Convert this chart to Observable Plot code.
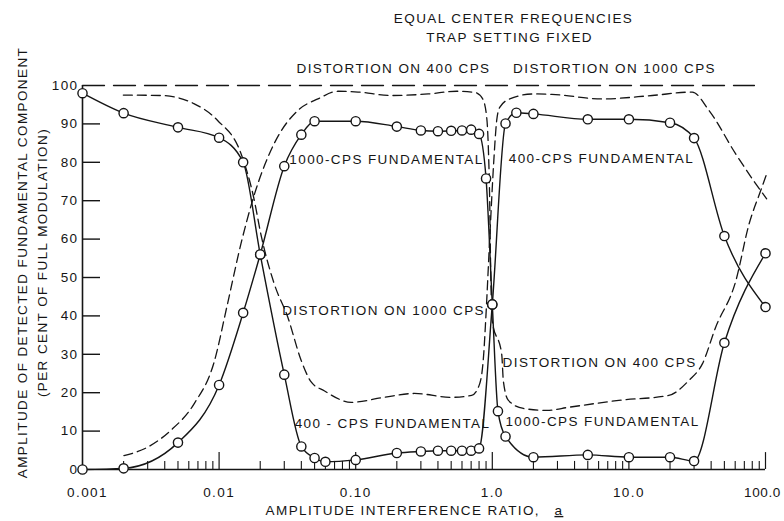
<!DOCTYPE html>
<html><head><meta charset="utf-8">
<script src="https://cdn.jsdelivr.net/npm/d3@7"></script>
<script src="https://cdn.jsdelivr.net/npm/@observablehq/plot@0.6"></script>
<style>
body{margin:0;background:#fff;}
#chart svg{font-family:"Liberation Sans",Arial,sans-serif;letter-spacing:1.4px;background:#fff;}
.ul text{text-decoration:underline;}
</style></head><body><div id="chart"></div>
<script>
// 1000-CPS fundamental (circles, solid)
const ratio1000 = [0.001, 0.002, 0.005, 0.01, 0.015, 0.02, 0.03, 0.04, 0.05, 0.1, 0.2, 0.3, 0.4, 0.5, 0.6, 0.7, 0.8, 0.9, 1.0, 1.1, 1.25, 2, 5, 10, 20, 30, 50, 100];
const fund1000  = [0, 0.3, 7, 22, 40.8, 56, 79, 87.2, 90.7, 90.7, 89.3, 88.3, 88.1, 88.2, 88.3, 88.5, 87.4, 75.8, 43, 15.2, 8.6, 3.2, 3.8, 3.2, 3.2, 2.2, 33, 56.3];
// 400-CPS fundamental (circles, solid)
const ratio400 = [0.001, 0.002, 0.005, 0.01, 0.015, 0.02, 0.03, 0.04, 0.05, 0.06, 0.1, 0.2, 0.3, 0.4, 0.5, 0.6, 0.7, 0.8, 1.0, 1.25, 1.5, 2, 5, 10, 20, 30, 50, 100];
const fund400  = [98, 92.8, 89.1, 86.4, 80, 56, 24.7, 6, 3, 2, 2.5, 4.3, 4.7, 4.9, 4.9, 4.9, 4.9, 5.5, 43, 90.1, 92.9, 92.6, 91.2, 91.2, 90.3, 86.3, 60.8, 42.3];
// Distortion on 400 CPS (dashed)
const distRatio400 = [0.00201, 0.00299, 0.00443, 0.00656, 0.0092, 0.0115, 0.01446, 0.0179, 0.0254, 0.0377, 0.0529, 0.0741, 0.104, 0.1825, 0.3395, 0.548, 0.747, 0.851, 0.910, 0.935, 0.957, 0.973, 0.998, 1.172, 1.205, 1.312, 1.69, 2.51, 3.62, 8.43, 19.6, 27.5, 34.5, 43.1, 60.5, 75.9, 92.4, 102];
const dist400      = [3.6, 5.8, 10.2, 17.1, 28, 43, 58.8, 71, 85, 93.5, 96.5, 98.5, 98.3, 97.4, 97.8, 98.5, 98.2, 96.5, 91.7, 84, 70, 52, 38.8, 30, 23, 18, 15.9, 15.4, 16.2, 18, 19.3, 23.2, 27.5, 37, 49, 64, 72.7, 77];
// Distortion on 1000 CPS (dashed)
const distRatio1000 = [0.00199, 0.00374, 0.00653, 0.00975, 0.01446, 0.0179, 0.0203, 0.0253, 0.0318, 0.0399, 0.0472, 0.0588, 0.0929, 0.162, 0.269, 0.504, 0.706, 0.808, 0.865, 0.895, 0.957, 1.024, 1.077, 1.133, 1.342, 2.004, 2.73, 6.35, 14.8, 29.1, 38.6, 60.5, 84.9, 102];
const dist1000      = [97.5, 97.4, 95.3, 90.9, 82.3, 70.9, 61, 48.4, 39.7, 28.4, 22.8, 20.5, 17.5, 18.8, 19.8, 18.8, 19.3, 22.3, 30, 39, 60, 80, 90.9, 94.3, 96.5, 97.8, 97.7, 96.5, 97.4, 98.3, 93.5, 82.2, 74.4, 70.5];
// 100 % reference (dashed)
const fullRatio = [0.001, 83];
const fullLevel = [100, 100];

const xTickValues = [0.001, 0.01, 0.1, 1, 10, 100];
const xTickLabels = ["0.001", "0.01", "0.10", "1.0", "10.0", "100.0"];
const yTickValues = [0, 10, 20, 30, 40, 50, 60, 70, 80, 90, 100];
const yTickLabels = ["0", "10", "20", "30", "40", "50", "60", "70", "80", "90", "100"];

const labelTexts = ["EQUAL CENTER FREQUENCIES", "TRAP SETTING FIXED", "DISTORTION ON 400 CPS", "DISTORTION ON 1000 CPS", "1000-CPS FUNDAMENTAL", "400-CPS FUNDAMENTAL", "DISTORTION ON 1000 CPS", "DISTORTION ON 400 CPS", "400 - CPS FUNDAMENTAL", "1000-CPS FUNDAMENTAL"];
const labelRatio  = [1.43, 1.34, 0.189, 7.85, 0.168, 6.3, 0.16, 6.1, 0.186, 6.41];
const labelLevel  = [117.4, 112.5, 104.4, 104.4, 80.7, 81, 41.4, 27.9, 12, 12.5];

const xTitle = "AMPLITUDE INTERFERENCE RATIO,";
const xTitleVar = "a";
const yTitle1 = "AMPLITUDE OF DETECTED FUNDAMENTAL COMPONENT";
const yTitle2 = "(PER CENT OF FULL MODULATION)";

const pts = (xs, ys) => xs.map((x, i) => ({x, y: ys[i]}));
const s1000 = pts(ratio1000, fund1000);
const s400 = pts(ratio400, fund400);
const d400 = pts(distRatio400, dist400);
const d1000 = pts(distRatio1000, dist1000);
const full = pts(fullRatio, fullLevel);
const labels = labelTexts.map((t, i) => ({t, x: labelRatio[i], y: labelLevel[i]}));
const xLab = xTickValues.map((v, i) => ({v, t: xTickLabels[i]}));

const minorTicks = [];
for (const dec of xTickValues.slice(0, -1)) for (let m = 2; m <= 9; m++) minorTicks.push(+(dec * m).toPrecision(3));

const ink = "#151515";
const fs = 13.5;

const chart = Plot.plot({
  width: 784, height: 521,
  marginTop: 85, marginBottom: 52, marginLeft: 82, marginRight: 19,
  x: {type: "log", domain: [0.001, 100], axis: null},
  y: {domain: [0, 100], axis: null},
  marks: [
    // axes lines
    Plot.ruleX([0.001], {y1: 0, y2: 100, stroke: ink, strokeWidth: 1.6}),
    Plot.ruleY([0], {x1: 0.001, x2: 100, stroke: ink, strokeWidth: 1.6}),
    Plot.ruleY(yTickValues.filter(v => v > 0 && v < 100), {x1: 0.001, x2: 0.001355, stroke: ink, strokeWidth: 1.4}),
    Plot.ruleX(xTickValues.slice(1), {y1: 0, y2: 4.4, stroke: ink, strokeWidth: 1.2}),
    Plot.ruleX(minorTicks, {y1: 0, y2: 2.1, stroke: ink, strokeWidth: 1.1}),
    // dashed
    Plot.line(full, {x: "x", y: "y", stroke: ink, strokeWidth: 1.3, strokeDasharray: "22,9"}),
    Plot.line(d400, {x: "x", y: "y", curve: "monotone-x", stroke: ink, strokeWidth: 1.3, strokeDasharray: "9,5"}),
    Plot.line(d1000, {x: "x", y: "y", curve: "monotone-x", stroke: ink, strokeWidth: 1.3, strokeDasharray: "9,5"}),
    // solid
    Plot.line(s1000, {x: "x", y: "y", curve: "monotone-x", stroke: ink, strokeWidth: 1.4}),
    Plot.line(s400, {x: "x", y: "y", curve: "monotone-x", stroke: ink, strokeWidth: 1.4}),
    Plot.dot(s1000, {x: "x", y: "y", r: 4.6, fill: "white", stroke: ink, strokeWidth: 1.4}),
    Plot.dot(s400, {x: "x", y: "y", r: 4.6, fill: "white", stroke: ink, strokeWidth: 1.4}),
    // tick labels
    Plot.text(xLab.slice(0, 1), {x: "v", y: 0, text: "t", dy: 23, dx: 5, fontSize: fs, fill: ink}),
    Plot.text(xLab.slice(1, -1), {x: "v", y: 0, text: "t", dy: 23, fontSize: fs, fill: ink}),
    Plot.text(xLab.slice(-1), {x: "v", y: 0, text: "t", dy: 23, dx: -3, textAnchor: "middle", fontSize: fs, fill: ink, className: "last"}),
    Plot.text(yTickValues, {x: 0.001, y: d => d, text: (d, i) => yTickLabels[i], textAnchor: "end", dx: -4, fontSize: fs, fill: ink}),
    // annotations
    Plot.text(labels, {x: "x", y: "y", text: "t", fontSize: fs, fill: ink}),
    // axis titles
    Plot.text([xTitle], {x: 0.0219, y: -10.7, text: d => d, textAnchor: "start", fontSize: fs, fill: ink}),
    Plot.text([xTitleVar], {x: 2.85, y: -10.7, text: d => d, textAnchor: "start", fontSize: fs, fill: ink, className: "ul"}),
    Plot.text([yTitle1], {x: 0.000364, y: 53.9, text: d => d, rotate: -90, fontSize: fs, fill: ink}),
    Plot.text([yTitle2], {x: 0.000509, y: 53.9, text: d => d, rotate: -90, fontSize: fs, fill: ink})
  ]
});
document.getElementById("chart").appendChild(chart);
</script>
<style>.last text{letter-spacing:0.6px;}</style>
</body></html>
